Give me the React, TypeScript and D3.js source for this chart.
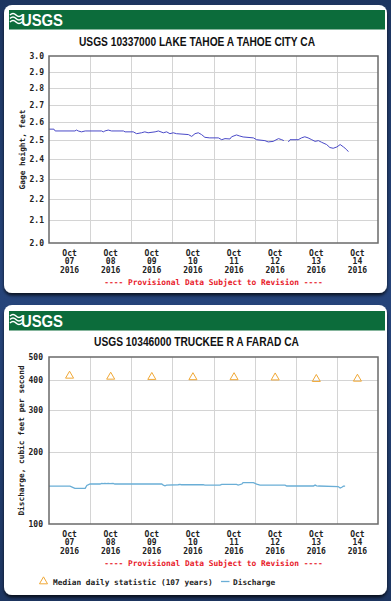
import React from "react";
import * as d3 from "d3";

// ---------- data ----------
const START = Date.UTC(2016, 9, 7); // Oct 07 2016 00:00
const END = Date.UTC(2016, 9, 15);
const DAY = 86400000;

const tickDays = ["07", "08", "09", "10", "11", "12", "13", "14"];
const tickMonth = "Oct";
const tickYear = "2016";

// Gage height (feet), day offsets from Oct 07 00:00; null = gap
const gageDays = [
  0.0, 0.12, 0.15, 0.63, 0.67, 0.71, 0.79, 0.88, 1.28, 1.32, 1.36, 1.44, 1.52, 1.81, 1.85,
  2.05, 2.13, 2.25, 2.33, 2.41, 2.58, 2.66, 2.78, 2.86, 2.94, 3.02, 3.1, 3.39, 3.47, 3.55,
  3.63, 3.71, 3.79, 3.91, 4.12, 4.2, 4.28, 4.4, 4.44, 4.56, 4.64, 4.72, 4.97, 5.05, 5.25,
  5.33, 5.45, 5.58, 5.66, 5.71, 5.76, 5.82, 5.86, 6.06, 6.14, 6.22, 6.3, 6.39, 6.47, 6.55,
  6.63, 6.75, 6.83, 6.91, 7.0, 7.08, 7.16, 7.2, 7.24, 7.28,
];
const gageValues: (number | null)[] = [
  2.56, 2.56, 2.55, 2.55, 2.555, 2.55, 2.545, 2.55, 2.55, 2.545, 2.55, 2.555, 2.55, 2.55, 2.545,
  2.545, 2.535, 2.54, 2.545, 2.54, 2.545, 2.55, 2.54, 2.545, 2.535, 2.54, 2.535, 2.53, 2.52, 2.535,
  2.54, 2.53, 2.515, 2.512, 2.512, 2.502, 2.508, 2.506, 2.518, 2.528, 2.522, 2.517, 2.512, 2.502, 2.497,
  2.49, 2.493, 2.508, 2.502, 2.497, null, 2.49, 2.502, 2.502, 2.512, 2.518, 2.512, 2.502, 2.493, 2.497,
  2.488, 2.476, 2.46, 2.456, 2.463, 2.476, 2.463, 2.456, 2.448, 2.438,
];
const gageTicks = [2.0, 2.1, 2.2, 2.3, 2.4, 2.5, 2.6, 2.7, 2.8, 2.9, 3.0];

// Discharge (cfs)
const dischargeDays = [
  0.0, 0.51, 0.55, 0.59, 0.63, 0.88, 0.92, 1.0, 1.24, 1.28, 1.32, 1.36, 1.4, 1.44, 1.48,
  1.56, 1.6, 2.74, 2.78, 2.82, 2.86, 3.14, 3.18, 3.22, 3.75, 3.79, 3.91, 4.16, 4.2, 4.56,
  4.6, 4.69, 4.72, 4.97, 5.05, 5.13, 5.74, 5.78, 6.43, 6.47, 6.51, 6.55, 7.03, 7.08, 7.12,
  7.16, 7.2,
];
const dischargeValues = [
  144, 144, 143, 142, 141, 141, 145, 147, 147, 148, 147.5, 148, 147.5, 148, 147.5,
  148, 147, 147, 145.5, 144.5, 145.5, 146, 146.5, 146, 146, 145.5, 145.5, 145.5, 146.5, 146.5,
  145.5, 147, 149, 149, 147, 145.5, 145.5, 144.2, 144.2, 145.5, 144.5, 144.2, 143.5, 141.5, 142.5,
  144, 144,
];
const medianValues = [417, 413, 412, 411, 411, 410, 404, 405];
const dischargeTicks = [100, 200, 300, 400, 500];

const title1 = "USGS 10337000 LAKE TAHOE A TAHOE CITY CA";
const title2 = "USGS 10346000 TRUCKEE R A FARAD CA";
const provisional = "---- Provisional Data Subject to Revision ----";

// ---------- styles ----------
const MONO = "'DejaVu Sans Mono', monospace";
const SANS = "'Liberation Sans Narrow', 'Liberation Sans', Arial, sans-serif";
const GREEN = "#0c6c3b";
const GRID = "#d4d4d4";

const xScale = d3.scaleUtc().domain([new Date(START), new Date(END)]).range([49, 378]);

function Logo({ y }: { y: number }) {
  return (
    <g transform={`translate(10,${y})`}>
      {[0, 3.5, 7].map((dy, i) => (
        <path
          key={i}
          d={`M0,${4 + dy} q3,-3 6,0 t6,0`}
          fill="none"
          stroke="#fff"
          strokeWidth={1.6}
        />
      ))}
      <text
        x={11}
        y={15}
        fill="#fff"
        fontFamily={SANS}
        fontWeight="bold"
        fontSize={17}
        textLength={42}
        lengthAdjust="spacingAndGlyphs"
      >
        USGS
      </text>
    </g>
  );
}

function XAxisLabels({ bottom }: { bottom: number }) {
  return (
    <g fontFamily={MONO} fontWeight="bold" fontSize={8} fill="#222" textAnchor="middle">
      {tickDays.map((d, i) => {
        const x = xScale(new Date(START + (i + 0.5) * DAY));
        return (
          <g key={d}>
            <text x={x} y={bottom + 12.5}>{tickMonth}</text>
            <text x={x} y={bottom + 21.2}>{d}</text>
            <text x={x} y={bottom + 30}>{tickYear}</text>
          </g>
        );
      })}
      <text x={213.5} y={bottom + 42} fill="#e8202a" fontSize={7.9}>
        {provisional}
      </text>
    </g>
  );
}

function VGrid({ top, bottom }: { top: number; bottom: number }) {
  return (
    <g stroke={GRID} strokeWidth={1}>
      {d3.range(1, 8).map((i) => {
        const x = Math.round(xScale(new Date(START + i * DAY))) + 0.5;
        return <line key={i} x1={x} x2={x} y1={top} y2={bottom} />;
      })}
    </g>
  );
}

export default function App() {
  // top chart
  const yTop = d3.scaleLog().domain([2, 3]).range([243, 56]);
  const gagePts = gageDays.map((d, i) => ({ t: new Date(START + d * DAY), v: gageValues[i] }));
  const gageLine = d3
    .line<{ t: Date; v: number | null }>()
    .defined((p) => p.v !== null)
    .x((p) => xScale(p.t))
    .y((p) => yTop(p.v as number));

  // bottom chart
  const yBot = d3.scaleLog().domain([100, 500]).range([524, 357]);
  const qPts = dischargeDays.map((d, i) => ({ t: new Date(START + d * DAY), v: dischargeValues[i] }));
  const qLine = d3
    .line<{ t: Date; v: number }>()
    .x((p) => xScale(p.t))
    .y((p) => yBot(p.v));
  const tri = d3.symbol().type(d3.symbolTriangle).size(28);

  return (
    <div style={{ position: "fixed", left: 0, top: 0, width: 391, height: 601 }}>
      <svg width={391} height={601} style={{ display: "block" }}>
        <defs>
          <linearGradient id="bg" x1="0" y1="0" x2="0" y2="1">
            <stop offset="0" stopColor="#1d3560" />
            <stop offset="0.5" stopColor="#26447a" />
            <stop offset="1" stopColor="#1d3560" />
          </linearGradient>
          <filter id="sh" x="-5%" y="-5%" width="110%" height="115%">
            <feDropShadow dx="0" dy="2.5" stdDeviation="1.8" floodColor="#000" floodOpacity="0.7" />
          </filter>
        </defs>
        <rect x={0} y={0} width={391} height={601} fill="url(#bg)" />

        {/* ---------------- top panel ---------------- */}
        <rect x={4} y={5} width={383} height={288} rx={8} fill="#fff" filter="url(#sh)" />
        <rect x={9} y={10} width={376} height={19.5} fill={GREEN} />
        <Logo y={11} />
        <text
          x={197}
          y={46}
          textAnchor="middle"
          fontFamily={SANS}
          fontWeight="bold"
          fontSize={12}
          textLength={236}
          lengthAdjust="spacingAndGlyphs"
          fill="#111"
        >
          {title1}
        </text>

        <g stroke={GRID} strokeWidth={1}>
          {gageTicks.slice(1, -1).map((t) => {
            const y = Math.round(yTop(t)) + 0.5;
            return <line key={t} x1={49} x2={378} y1={y} y2={y} />;
          })}
        </g>
        <VGrid top={56} bottom={243} />
        <path d={gageLine(gagePts) || ""} fill="none" stroke="#4a4ac8" strokeWidth={1} />
        <rect x={49} y={56} width={329} height={187} fill="none" stroke="#6a6a6a" strokeWidth={1.5} />
        <g fontFamily={MONO} fontWeight="bold" fontSize={8} fill="#222" textAnchor="end">
          {gageTicks.map((t) => (
            <text key={t} x={44} y={yTop(t) + 3}>
              {d3.format(".1f")(t)}
            </text>
          ))}
        </g>
        <text
          transform={`translate(24.5,${(56 + 243) / 2}) rotate(-90)`}
          textAnchor="middle"
          fontFamily={MONO}
          fontWeight="bold"
          fontSize={7.8}
          fill="#222"
        >
          Gage height, feet
        </text>
        <XAxisLabels bottom={243} />

        {/* ---------------- bottom panel ---------------- */}
        <rect x={4} y={305} width={383} height={290} rx={8} fill="#fff" filter="url(#sh)" />
        <rect x={9} y={311} width={376} height={19.5} fill={GREEN} />
        <Logo y={312} />
        <text
          x={196.5}
          y={346}
          textAnchor="middle"
          fontFamily={SANS}
          fontWeight="bold"
          fontSize={12}
          textLength={205}
          lengthAdjust="spacingAndGlyphs"
          fill="#111"
        >
          {title2}
        </text>

        <g stroke={GRID} strokeWidth={1}>
          {dischargeTicks.slice(1, -1).map((t) => {
            const y = Math.round(yBot(t)) + 0.5;
            return <line key={t} x1={49} x2={378} y1={y} y2={y} />;
          })}
        </g>
        <VGrid top={357} bottom={524} />
        <path d={qLine(qPts) || ""} fill="none" stroke="#6aaed6" strokeWidth={1.3} />
        {medianValues.map((v, i) => (
          <path
            key={i}
            d={tri() || ""}
            transform={`translate(${xScale(new Date(START + (i + 0.5) * DAY))},${yBot(v)})`}
            fill="none"
            stroke="#f0a836"
            strokeWidth={1}
          />
        ))}
        <rect x={49} y={357} width={329} height={167} fill="none" stroke="#6a6a6a" strokeWidth={1.5} />
        <g fontFamily={MONO} fontWeight="bold" fontSize={8} fill="#222" textAnchor="end">
          {dischargeTicks.map((t) => (
            <text key={t} x={43} y={yBot(t) + 3}>
              {t}
            </text>
          ))}
        </g>
        <text
          transform={`translate(23.5,${(357 + 524) / 2}) rotate(-90)`}
          textAnchor="middle"
          fontFamily={MONO}
          fontWeight="bold"
          fontSize={7.8}
          fill="#222"
        >
          Discharge, cubic feet per second
        </text>
        <XAxisLabels bottom={524} />

        {/* legend */}
        <path d={tri() || ""} transform="translate(43.5,581.5)" fill="none" stroke="#f0a836" strokeWidth={1} />
        <text x={53} y={584.5} fontFamily={MONO} fontWeight="bold" fontSize={7.8} fill="#222">
          Median daily statistic (107 years)
        </text>
        <line x1={221} x2={229.5} y1={581.5} y2={581.5} stroke="#6aaed6" strokeWidth={1.3} />
        <text x={233} y={584.5} fontFamily={MONO} fontWeight="bold" fontSize={7.8} fill="#222">
          Discharge
        </text>
      </svg>
    </div>
  );
}
